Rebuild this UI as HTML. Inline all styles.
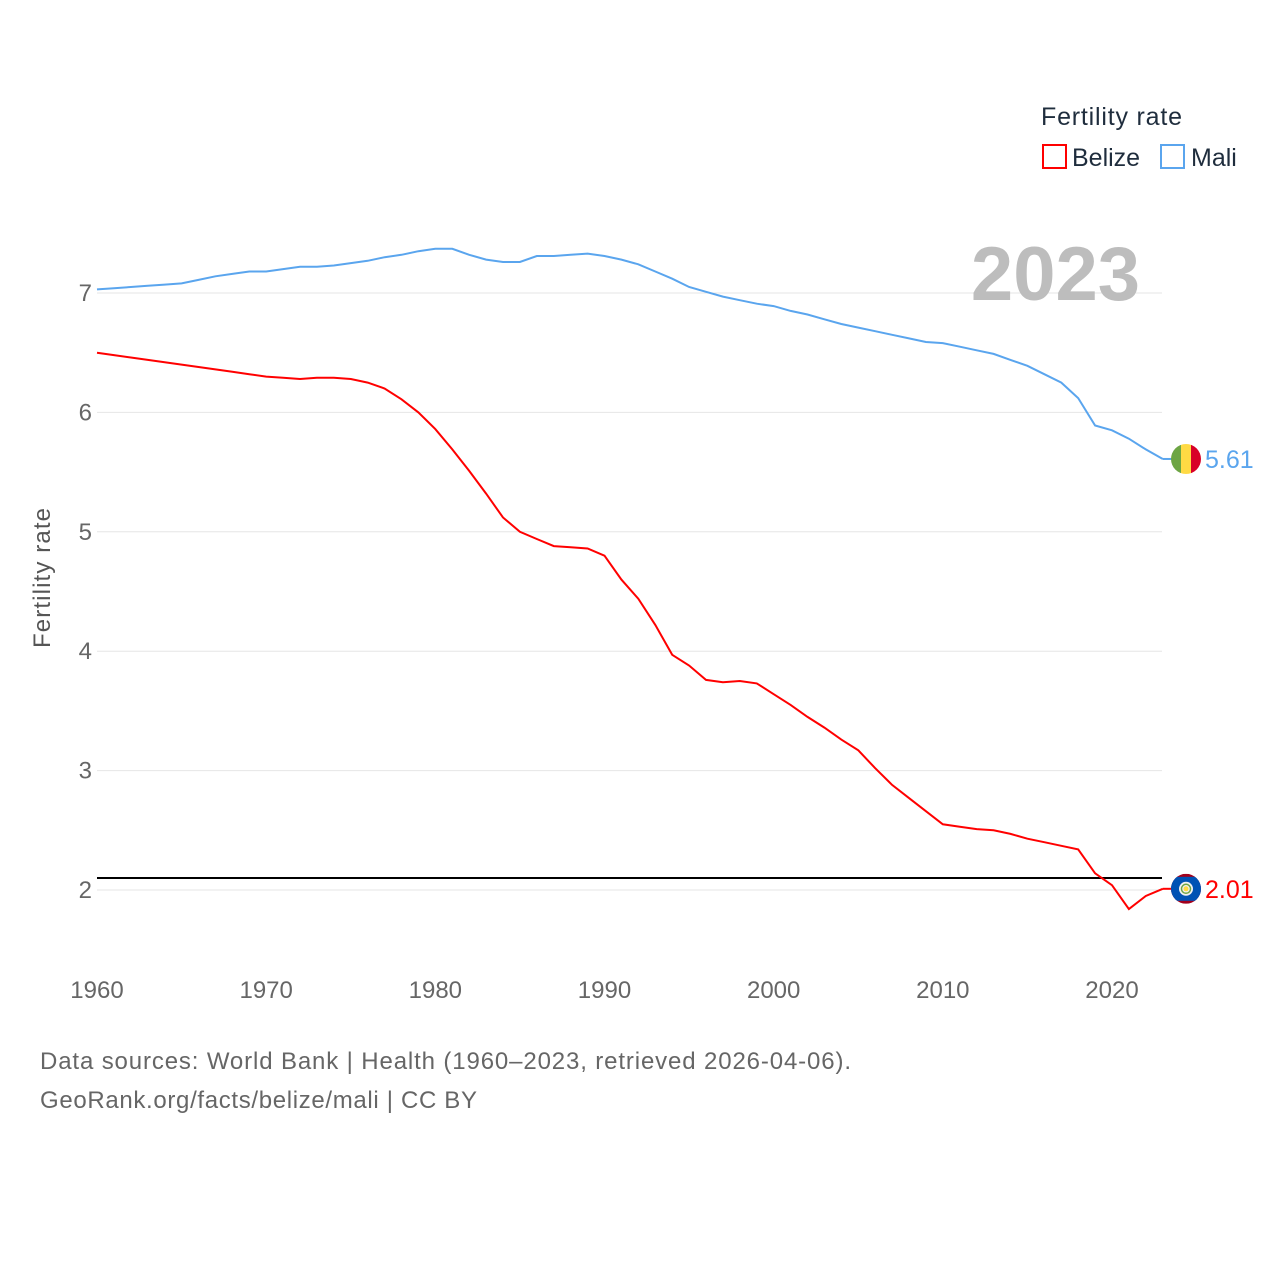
<!DOCTYPE html>
<html><head><meta charset="utf-8">
<style>
body{margin:0;background:#fff;font-family:"Liberation Sans",sans-serif;}
svg text{font-family:"Liberation Sans",sans-serif;}
</style></head>
<body>
<svg id="chart" width="1280" height="1280" viewBox="0 0 1280 1280" xmlns="http://www.w3.org/2000/svg">
<rect width="1280" height="1280" fill="#fff"/>
<g id="grid"></g>
<g id="yticks"></g>
<g id="xticks"></g>
<text x="50" y="578" transform="rotate(-90 50 578)" text-anchor="middle" font-size="24" textLength="140" fill="#555">Fertility rate</text>
<text x="1140" y="300" text-anchor="end" font-size="76" font-weight="bold" fill="#bdbdbd">2023</text>
<g>
<text x="1041" y="125" font-size="25" textLength="141" fill="#1f2d3d">Fertility rate</text>
<g><rect x="1043" y="145" width="23" height="23" fill="none" stroke="#f00" stroke-width="2"/><text x="1072" y="166" font-size="25" fill="#1f2d3d">Belize</text></g>
<g><rect x="1161" y="145" width="23" height="23" fill="none" stroke="#5aa5ee" stroke-width="2"/><text x="1191" y="166" font-size="25" fill="#1f2d3d">Mali</text></g>
</g>
<line id="refline" x1="97" x2="1162" stroke="#000" stroke-width="2"/>
<path id="mali" fill="none" stroke="#5aa5ee" stroke-width="2"/>
<path id="belize" fill="none" stroke="#f00" stroke-width="2"/>
<g id="endmarks"></g>
<text x="40" y="1069" font-size="24" textLength="811" fill="#666">Data sources: World Bank | Health (1960–2023, retrieved 2026-04-06).</text>
<text x="40" y="1108" font-size="24" textLength="437" fill="#666">GeoRank.org/facts/belize/mali | CC BY</text>
</svg>
<script>
const years=[];for(let y=1960;y<=2023;y++)years.push(y);
const maliValues=[7.03,7.04,7.05,7.06,7.07,7.08,7.11,7.14,7.16,7.18,7.18,7.20,7.22,7.22,7.23,7.25,7.27,7.30,7.32,7.35,7.37,7.37,7.32,7.28,7.26,7.26,7.31,7.31,7.32,7.33,7.31,7.28,7.24,7.18,7.12,7.05,7.01,6.97,6.94,6.91,6.89,6.85,6.82,6.78,6.74,6.71,6.68,6.65,6.62,6.59,6.58,6.55,6.52,6.49,6.44,6.39,6.32,6.25,6.12,5.89,5.85,5.78,5.69,5.61];
const belizeValues=[6.50,6.48,6.46,6.44,6.42,6.40,6.38,6.36,6.34,6.32,6.30,6.29,6.28,6.29,6.29,6.28,6.25,6.20,6.11,6.00,5.86,5.69,5.51,5.32,5.12,5.00,4.94,4.88,4.87,4.86,4.80,4.60,4.44,4.22,3.97,3.88,3.76,3.74,3.75,3.73,3.64,3.55,3.45,3.36,3.26,3.17,3.02,2.88,2.77,2.66,2.55,2.53,2.51,2.50,2.47,2.43,2.40,2.37,2.34,2.14,2.04,1.84,1.95,2.01];
const yTicks=[2,3,4,5,6,7];
const xTicks=[1960,1970,1980,1990,2000,2010,2020];
const refValue=2.1;
const X=y=>97+(y-1960)*(1112-97)/60;
const Y=v=>890-(v-2)*(890-293)/5;
const NS="http://www.w3.org/2000/svg";
function mk(t,a,p,txt){const e=document.createElementNS(NS,t);for(const k in a)e.setAttribute(k,a[k]);if(txt!==undefined)e.textContent=txt;p.appendChild(e);return e;}
const grid=document.getElementById('grid'),yt=document.getElementById('yticks'),xt=document.getElementById('xticks');
yTicks.forEach(v=>{
 const l=mk('line',{x1:97,x2:1162,y1:Y(v),y2:Y(v),stroke:'#e6e6e6','stroke-width':1},grid);
 
 
 const t=mk('text',{x:92,y:Y(v)+8,'text-anchor':'end','font-size':24,fill:'#666'},yt,String(v));
 
 
});
xTicks.forEach(v=>{
 const t=mk('text',{x:X(v),y:998,'text-anchor':'middle','font-size':24,fill:'#666'},xt,String(v));
 
 
});
const rl=document.getElementById('refline');rl.setAttribute('y1',Y(refValue));rl.setAttribute('y2',Y(refValue));
const pathOf=vals=>vals.map((v,i)=>(i?'L':'M')+X(years[i]).toFixed(1)+','+Y(v).toFixed(1)).join('');
document.getElementById('mali').setAttribute('d',pathOf(maliValues));
document.getElementById('belize').setAttribute('d',pathOf(belizeValues));
const em=document.getElementById('endmarks');
function endMark(vals,color,name,flag){
 const v=vals[vals.length-1],x=X(years[years.length-1]),y=Y(v),cx=1186;
 const ln=mk('line',{x1:x,x2:cx-14,y1:y,y2:y,stroke:color,'stroke-width':2},em);
 
 
 const g=mk('g',{},em);
 
 
 flag(g,cx,y);
 const t=mk('text',{x:1205,y:y+9,'font-size':25,fill:color},em,v.toFixed(2));
 
 
}
endMark(maliValues,'#5aa5ee','mali',(g,cx,cy)=>{
 mk('clipPath',{id:'cm'},g);mk('circle',{cx,cy,r:15},g.lastChild);
 mk('rect',{x:cx-15,y:cy-15,width:10,height:30,fill:'#6da544','clip-path':'url(#cm)'},g);
 mk('rect',{x:cx-5,y:cy-15,width:10,height:30,fill:'#ffda44','clip-path':'url(#cm)'},g);
 mk('rect',{x:cx+5,y:cy-15,width:10,height:30,fill:'#d80027','clip-path':'url(#cm)'},g);
});
endMark(belizeValues,'#f00','belize',(g,cx,cy)=>{
 mk('clipPath',{id:'cb'},g);mk('circle',{cx,cy,r:15},g.lastChild);
 mk('rect',{x:cx-15,y:cy-15,width:30,height:30,fill:'#a2001d','clip-path':'url(#cb)'},g);
 mk('rect',{x:cx-15,y:cy-12,width:30,height:24,fill:'#0052b4','clip-path':'url(#cb)'},g);
 mk('circle',{cx,cy,r:7,fill:'#f0f0f0'},g);
 mk('circle',{cx,cy,r:4.5,fill:'none',stroke:'#6da544','stroke-width':1.5},g);
 mk('circle',{cx,cy,r:2.5,fill:'#ffda44'},g);
});
</script>
</body></html>
